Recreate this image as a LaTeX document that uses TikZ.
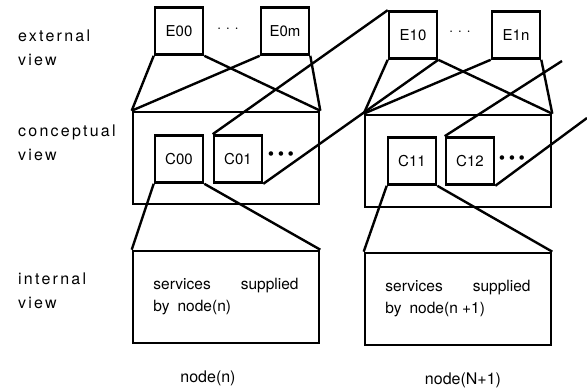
\documentclass[tikz,border=0pt]{standalone}
\usepackage{fontspec}
\setmainfont{TeX Gyre Heros}

\tikzstyle{view} = [align=left, anchor=west, inner sep=0pt, font=\fontsize{16}{24}\selectfont\addfontfeature{LetterSpace=14}]
\tikzstyle{ebox} = [rectangle, draw = black, line width=2.6pt, minimum width = 48pt, minimum height = 47pt, text centered, font=\fontsize{15}{18}\selectfont]
\tikzstyle{big} = [rectangle, draw = black, line width=2.6pt, minimum width = 186pt, minimum height = 92pt, align=left, font=\fontsize{15.5}{22}\selectfont]
\tikzstyle{dots} = [inner sep=0pt, font=\fontsize{15}{18}\selectfont\addfontfeature{LetterSpace=30}]
\tikzstyle{more} = [inner sep=0pt, font=\fontsize{30}{30}\selectfont\bfseries\addfontfeature{LetterSpace=5}]
\tikzstyle{line} = [line width=2.4pt, -, draw = black]

\begin{document}
\begin{tikzpicture}[x=1pt, y=-1pt, node distance = 106pt]
    \useasboundingbox (0,0) rectangle (587,390);
    % left column: node(n)
    \node(E00)[ebox] at (179,31) {E00};
    \node(E0m)[ebox, right of = E00]{E0m};
    \node(dots0)[dots] at (228,30) {···};
    \node(K0)[big, below of = E00, xshift = 47pt, yshift = -21pt]{};
    \node(C00)[ebox, below of = E00, yshift = -22pt]{C00};
    \node(C01)[ebox, right of = C00, xshift = -47pt]{C01};
    \node(more0)[more] at (281,156.5) {···};
    \node(I0)[big, below of = K0, yshift = -33pt]{services\hspace{30pt}supplied\\by\hspace{8pt}node(n)};
    % right column: node(N+1)
    \node(E10)[ebox, right of = E0m, xshift = 22pt, yshift = -4pt]{E10};
    \node(E1n)[ebox, right of = E10, xshift = -3pt]{E1n};
    \node(dots1)[dots] at (460,33) {···};
    \node(K1)[big, right of = K0, xshift = 126pt, yshift = -3pt]{};
    \node(C11)[ebox, right of = C01, xshift = 68pt, yshift = -2pt]{C11};
    \node(C12)[ebox, right of = C11, xshift = -48pt]{C12};
    \node(more1)[more] at (512,160.5) {···};
    \node(I1)[big, right of = I0, xshift = 126pt, yshift = -2pt]{services\hspace{30pt}supplied\\by\hspace{8pt}node(n +1)};
    \coordinate(far0) at (562,61);
    \coordinate(far1) at (587,118);
    % row labels
    \node(ext)[view] at (18,48) {external\\view};
    \node(con)[view] at (18,143) {conceptual\\view};
    \node(int)[view] at (18,291) {internal\\view};
    \node(nn)[font=\fontsize{16}{18}\selectfont] at (208,378) {node(n)};
    \node(nn1)[font=\fontsize{16}{18}\selectfont] at (463,380) {node(N+1)};
    % mappings
    \draw[line] (E00.south west) -- (K0.north west);
    \draw[line] (E00.south east) -- (K0.north east);
    \draw[line] (E0m.south west) -- (K0.north west);
    \draw[line] (E0m.south east) -- (K0.north east);
    \draw[line] (E10.south west) -- (K1.north west);
    \draw[line] (E10.south east) -- (K1.north east);
    \draw[line] (E1n.south west) -- (K1.north west);
    \draw[line] (E1n.south east) -- (K1.north east);
    \draw[line] (C01.north west) -- (E10.north west);
    \draw[line] (C01.south east) -- (E10.south east);
    \draw[line] (C12.north west) -- (far0);
    \draw[line] (C12.south east) -- (far1);
    \draw[line] (C00.south west) -- (I0.north west);
    \draw[line] (C00.south east) -- (I0.north east);
    \draw[line] (C11.south west) -- (I1.north west);
    \draw[line] (C11.south east) -- (I1.north east);
\end{tikzpicture}
\end{document}
